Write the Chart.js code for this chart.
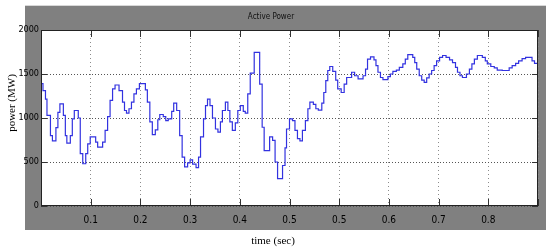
<!DOCTYPE html>
<html>
<head>
<meta charset="utf-8">
<script src="https://cdn.jsdelivr.net/npm/chart.js@4.4.0/dist/chart.umd.min.js"></script>
<style>
  html, body { margin: 0; padding: 0; background: #fff; }
</style>
</head>
<body>
<canvas id="myChart" width="546" height="250"></canvas>
<script>
// step breakpoints: each value holds until the next time
const timeSec = [
  0, 0.004, 0.009, 0.012, 0.019, 0.023, 0.030, 0.034, 0.038, 0.045,
  0.049, 0.052, 0.059, 0.063, 0.067, 0.075, 0.079, 0.084, 0.090, 0.094,
  0.099, 0.110, 0.114, 0.124, 0.129, 0.134, 0.139, 0.144, 0.149, 0.157,
  0.164, 0.168, 0.172, 0.177, 0.182, 0.187, 0.192, 0.198, 0.210, 0.214,
  0.219, 0.224, 0.230, 0.235, 0.239, 0.246, 0.251, 0.256, 0.263, 0.267,
  0.273, 0.279, 0.284, 0.289, 0.295, 0.300, 0.305, 0.312, 0.317, 0.321,
  0.327, 0.331, 0.335, 0.340, 0.345, 0.351, 0.356, 0.361, 0.365, 0.371,
  0.376, 0.380, 0.385, 0.391, 0.396, 0.401, 0.407, 0.411, 0.416, 0.421,
  0.429, 0.440, 0.445, 0.449, 0.460, 0.466, 0.471, 0.476, 0.486, 0.491,
  0.494, 0.500, 0.506, 0.511, 0.516, 0.521, 0.526, 0.532, 0.537, 0.541,
  0.548, 0.553, 0.558, 0.565, 0.569, 0.573, 0.577, 0.581, 0.587, 0.593,
  0.597, 0.604, 0.610, 0.615, 0.625, 0.631, 0.638, 0.648, 0.653, 0.657,
  0.663, 0.670, 0.674, 0.678, 0.683, 0.688, 0.698, 0.703, 0.708, 0.715,
  0.721, 0.728, 0.733, 0.738, 0.748, 0.752, 0.756, 0.761, 0.766, 0.771,
  0.776, 0.781, 0.786, 0.791, 0.796, 0.802, 0.808, 0.815, 0.822, 0.828,
  0.834, 0.838, 0.843, 0.848, 0.856, 0.862, 0.867, 0.872, 0.878, 0.888,
  0.894, 0.898, 0.905, 0.912, 0.918, 0.928, 0.942, 0.948, 0.955, 0.961,
  0.968, 0.975, 0.988, 0.993, 1.0
];
const powerMW = [
  1390, 1310, 1215, 1030, 800, 740, 890, 1065, 1160, 1030,
  800, 715, 800, 990, 1085, 1000, 595, 480, 595, 705,
  785, 725, 670, 725, 860, 1015, 1200, 1330, 1375, 1310,
  1180, 1085, 1055, 1105, 1180, 1275, 1330, 1390, 1320, 1180,
  955, 810, 865, 980, 1040, 1015, 970, 990, 1075, 1170,
  1085, 800, 555, 445, 490, 525, 475, 435, 555, 785,
  990, 1140, 1215, 1140, 1000, 875, 840, 955, 1085, 1180,
  1085, 955, 860, 945, 1085, 1140, 1075, 1055, 1275, 1510,
  1745, 1385, 895, 630, 785, 745, 500, 310, 460, 660,
  875, 990, 970, 860, 765, 740, 860, 970, 1105, 1180,
  1155, 1105, 1090, 1170, 1290, 1425, 1540, 1585, 1530, 1430,
  1330, 1290, 1385, 1460, 1520, 1480, 1445, 1480, 1555, 1670,
  1695, 1660, 1595, 1520, 1460, 1435, 1470, 1500, 1530, 1545,
  1575, 1615, 1670, 1720, 1690, 1630, 1555, 1480, 1430, 1405,
  1455, 1500, 1540, 1595, 1650, 1690, 1710, 1690, 1660, 1630,
  1575, 1520, 1480, 1460, 1500, 1555, 1615, 1670, 1710, 1690,
  1650, 1615, 1585, 1570, 1545, 1540, 1570, 1595, 1620, 1650,
  1675, 1690, 1650, 1620, 1620
];
// tick labels as printed in the figure (0.5 really appears twice)
const xTickLabels = ['', '0.1', '0.2', '0.3', '0.4', '0.5', '0.5', '0.6', '0.7', '0.8', ''];

const narrow = "'Liberation Sans Narrow', 'DejaVu Sans Condensed', sans-serif";
const serif = "'Liberation Serif', 'DejaVu Serif', serif";

// grey matlab figure frame, box around the axes, inward ticks, axis titles
const matlabFrame = {
  id: 'matlabFrame',
  beforeDraw(chart) {
    const ctx = chart.ctx, a = chart.chartArea;
    ctx.save();
    ctx.fillStyle = '#fff';
    ctx.fillRect(0, 0, chart.width, chart.height);
    ctx.fillStyle = '#808080';
    ctx.fillRect(25, 5, chart.width - 25, 225);
    ctx.fillStyle = '#d8d8d8';
    ctx.fillRect(25, 5, chart.width - 25, 1);
    ctx.fillStyle = '#fff';
    ctx.fillRect(a.left, a.top, a.right - a.left, a.bottom - a.top);
    ctx.restore();
  },
  afterDraw(chart) {
    const ctx = chart.ctx, a = chart.chartArea;
    const xs = chart.scales.x, ys = chart.scales.y;
    ctx.save();
    ctx.strokeStyle = '#333';
    ctx.lineWidth = 1;
    ctx.beginPath();
    xs.ticks.forEach(t => {
      const px = Math.round(xs.getPixelForValue(t.value)) + 0.5;
      ctx.moveTo(px, a.top); ctx.lineTo(px, a.top + 7);
      ctx.moveTo(px, a.bottom); ctx.lineTo(px, a.bottom - 7);
    });
    ys.ticks.forEach(t => {
      const py = Math.round(ys.getPixelForValue(t.value)) + 0.5;
      ctx.moveTo(a.left, py); ctx.lineTo(a.left + 6, py);
      ctx.moveTo(a.right, py); ctx.lineTo(a.right - 6, py);
    });
    ctx.stroke();
    ctx.strokeStyle = '#222';
    ctx.strokeRect(Math.round(a.left) + 0.5, Math.round(a.top) + 0.5,
      Math.round(a.right - a.left) - 1, Math.round(a.bottom - a.top) - 1);

    ctx.fillStyle = '#000';
    ctx.font = '11px ' + serif;
    ctx.textAlign = 'center';
    ctx.textBaseline = 'middle';
    ctx.fillText('time (sec)', 273, 241);
    ctx.translate(12, 103);
    ctx.rotate(-Math.PI / 2);
    ctx.fillText('power (MW)', 0, 0);
    ctx.restore();
  }
};

const config = {
  type: 'line',
  data: {
    datasets: [{
      label: 'Active Power',
      data: timeSec.map((t, i) => ({ x: t, y: powerMW[i] })),
      stepped: true,
      borderColor: '#3232e0',
      borderWidth: 1.2,
      pointRadius: 0,
      fill: false
    }]
  },
  options: {
    responsive: false,
    animation: false,
    layout: { padding: { left: 0, right: 4, top: 0, bottom: 0 } },
    plugins: {
      legend: { display: false },
      tooltip: { enabled: false },
      title: {
        display: true,
        text: 'Active Power',
        color: '#111',
        font: { family: narrow, size: 8, weight: 'normal' },
        padding: { top: 12, bottom: 8.4 }
      }
    },
    scales: {
      x: {
        type: 'linear',
        min: 0,
        max: 1,
        afterFit: s => { s.height = 44; },
        ticks: {
          stepSize: 0.1,
          autoSkip: false,
          maxRotation: 0,
          padding: 8,
          color: '#000',
          font: { family: narrow, size: 10 },
          callback: (v, i) => xTickLabels[i]
        },
        grid: { color: '#8c8c8c', drawTicks: false },
        border: { display: false, dash: [1, 3] }
      },
      y: {
        min: 0,
        max: 2000,
        afterFit: s => { s.width = 41; },
        ticks: {
          stepSize: 500,
          padding: 2,
          color: '#000',
          font: { family: narrow, size: 9 },
          callback: v => String(v)
        },
        grid: { color: '#555', drawTicks: false },
        border: { display: false, dash: [1, 2] }
      }
    }
  },
  plugins: [matlabFrame]
};

let myChart = new Chart(document.getElementById('myChart'), config);
</script>
</body>
</html>
